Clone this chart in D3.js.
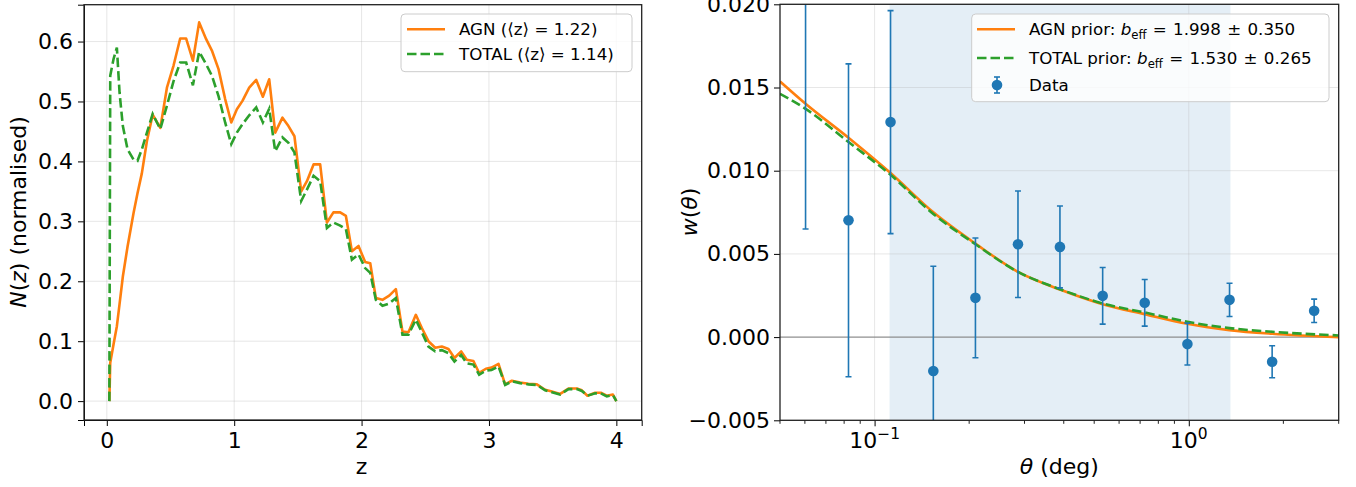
<!DOCTYPE html>
<html>
<head>
<meta charset="UTF-8">
<title>N(z) and w(theta)</title>
<style>
  body { margin: 0; background: #fff; }
  svg { display: block; }
  text { font-family: "DejaVu Sans", sans-serif; fill: #000; }
  .tick { font-size: 22px; }
  .lab { font-size: 22px; }
  .leg { font-size: 16.7px; }
  .grid line { stroke: #b0b0b0; stroke-opacity: 0.3; stroke-width: 1; }
</style>
</head>
<body>
<svg id="fig" width="1356" height="487"></svg>
<script src="https://cdn.jsdelivr.net/npm/d3@7"></script>
<script>
// ---- left panel: redshift distributions ----
var zBins = [0.02, 0.027, 0.053, 0.079, 0.10, 0.126, 0.163, 0.21, 0.241, 0.275, 0.315, 0.36, 0.42, 0.472,
  0.524, 0.576, 0.623, 0.676, 0.725, 0.78, 0.825, 0.877, 0.929, 0.977, 1.021, 1.065, 1.118, 1.173,
  1.225, 1.275, 1.322, 1.379, 1.426, 1.473, 1.526, 1.571, 1.623, 1.675, 1.728, 1.779, 1.832, 1.877,
  1.924, 1.976, 2.028, 2.068, 2.112, 2.164, 2.217, 2.269, 2.321, 2.368, 2.426, 2.473, 2.525, 2.578,
  2.63, 2.682, 2.729, 2.782, 2.826, 2.878, 2.923, 2.976, 3.02, 3.075, 3.127, 3.18, 3.245, 3.31,
  3.376, 3.441, 3.494, 3.559, 3.624, 3.69, 3.729, 3.773, 3.834, 3.878, 3.925, 3.973, 4.0];
var nzAgn = [0.0, 0.064, 0.095, 0.125, 0.162, 0.208, 0.258, 0.314, 0.347, 0.38, 0.434, 0.478, 0.456, 0.523,
  0.56, 0.605, 0.605, 0.568, 0.632, 0.604, 0.585, 0.554, 0.504, 0.465, 0.487, 0.501, 0.523, 0.536,
  0.508, 0.537, 0.448, 0.473, 0.459, 0.442, 0.35, 0.367, 0.395, 0.395, 0.298, 0.315, 0.315, 0.309,
  0.25, 0.259, 0.232, 0.23, 0.172, 0.169, 0.176, 0.187, 0.116, 0.115, 0.144, 0.122, 0.1, 0.089,
  0.091, 0.087, 0.072, 0.083, 0.069, 0.067, 0.047, 0.054, 0.056, 0.062, 0.028, 0.034, 0.031, 0.029,
  0.028, 0.019, 0.016, 0.012, 0.021, 0.021, 0.018, 0.009, 0.014, 0.014, 0.009, 0.011, 0.0];
var nzTotal = [0.0, 0.543, 0.571, 0.59, 0.515, 0.459, 0.42, 0.403, 0.401, 0.42, 0.448, 0.479, 0.454, 0.493,
  0.534, 0.565, 0.565, 0.527, 0.583, 0.562, 0.543, 0.509, 0.465, 0.429, 0.448, 0.462, 0.477, 0.49,
  0.465, 0.488, 0.417, 0.44, 0.431, 0.415, 0.334, 0.353, 0.376, 0.367, 0.289, 0.298, 0.293, 0.287,
  0.236, 0.245, 0.222, 0.214, 0.169, 0.159, 0.163, 0.172, 0.111, 0.111, 0.136, 0.115, 0.091, 0.083,
  0.085, 0.08, 0.066, 0.077, 0.063, 0.061, 0.044, 0.051, 0.052, 0.058, 0.027, 0.033, 0.03, 0.028,
  0.027, 0.018, 0.015, 0.011, 0.02, 0.02, 0.017, 0.009, 0.013, 0.013, 0.008, 0.01, 0.0];
var zTicks = [0, 1, 2, 3, 4];
var nTicks = [0.0, 0.1, 0.2, 0.3, 0.4, 0.5, 0.6];

// ---- right panel: angular correlation ----
var thetaData = [0.0603, 0.0826, 0.1124, 0.1538, 0.2094, 0.286, 0.389, 0.532, 0.724, 0.99, 1.348, 1.842, 2.506];
var wData = [0.0235, 0.00702, 0.01292, -0.00204, 0.00236, 0.00558, 0.00542, 0.00248, 0.00206, -0.00042, 0.00224, -0.00148, 0.00158];
var wErr = [0.017, 0.0094, 0.0067, 0.0063, 0.0036, 0.0032, 0.00246, 0.0017, 0.0014, 0.00126, 0.001, 0.00096, 0.0007];
var thetaModel = [0.05, 0.0603, 0.0826, 0.1124, 0.1538, 0.2094, 0.286, 0.389, 0.532, 0.724, 0.99, 1.348, 1.842, 3.0];
var wAgn = [0.01536, 0.01402, 0.01198, 0.00986, 0.0075, 0.00562, 0.00392, 0.00286, 0.00198, 0.00138, 0.0008, 0.00042, 0.0002, 0.0];
var wTotal = [0.01462, 0.01372, 0.01172, 0.00975, 0.0074, 0.00558, 0.00392, 0.00288, 0.00202, 0.00148, 0.00092, 0.00054, 0.00032, 0.0001];
var fitRange = [0.1116, 1.357];
var wTicks = [-0.005, 0.0, 0.005, 0.010, 0.015, 0.020];

var orange = "#ff7f0e", green = "#2ca02c", blue = "#1f77b4";
var svg = d3.select("#fig");

// ================= left =================
var xL = d3.scaleLinear().domain([-0.179, 4.199]).range([84, 641.7]);
var yL = d3.scaleLinear().domain([-0.0315, 0.6615]).range([420, 4.7]);
var gL = svg.append("g");

var gridL = gL.append("g").attr("class", "grid");
gridL.selectAll("line.v").data(zTicks).enter().append("line")
  .attr("x1", d => xL(d)).attr("x2", d => xL(d)).attr("y1", yL.range()[1]).attr("y2", yL.range()[0]);
gridL.selectAll("line.h").data(nTicks).enter().append("line")
  .attr("x1", xL.range()[0]).attr("x2", xL.range()[1]).attr("y1", d => yL(d)).attr("y2", d => yL(d));

var lineL = (ys) => d3.line().x((d, i) => xL(zBins[i])).y(d => yL(d))(ys);
gL.append("path").attr("d", lineL(nzAgn)).attr("fill", "none").attr("stroke", orange).attr("stroke-width", 2.6).attr("stroke-linejoin", "round");
gL.append("path").attr("d", lineL(nzTotal)).attr("fill", "none").attr("stroke", green).attr("stroke-width", 2.6).attr("stroke-dasharray", "9.5,4");

gL.append("g").attr("transform", "translate(0,420)")
  .call(d3.axisBottom(xL).tickValues(zTicks).tickFormat(d3.format("d")).tickSize(6).tickPadding(6))
  .call(g => g.selectAll("text").attr("class", "tick"));
gL.append("g").attr("transform", "translate(84,0)")
  .call(d3.axisLeft(yL).tickValues(nTicks).tickFormat(d3.format(".1f")).tickSize(6).tickPadding(5))
  .call(g => g.selectAll("text").attr("class", "tick"));
gL.append("rect").attr("x", 84).attr("y", 4.7).attr("width", 641.7 - 84).attr("height", 420 - 4.7)
  .attr("fill", "none").attr("stroke", "#222").attr("stroke-width", 1.3);

gL.append("text").attr("class", "lab").attr("x", xL(2)).attr("y", 474).attr("text-anchor", "middle").text("z");
var ylab = gL.append("text").attr("class", "lab").attr("text-anchor", "middle")
  .attr("transform", "translate(26,212) rotate(-90)");
ylab.append("tspan").attr("font-style", "italic").text("N");
ylab.append("tspan").text("(");
ylab.append("tspan").attr("font-style", "italic").text("z");
ylab.append("tspan").text(") (normalised)");

// left legend
var legL = gL.append("g");
legL.append("rect").attr("x", 401).attr("y", 14).attr("width", 231).attr("height", 57.7).attr("rx", 4)
  .attr("fill", "#fff").attr("fill-opacity", 0.8).attr("stroke", "#ccc");
legL.append("line").attr("x1", 407).attr("x2", 445).attr("y1", 29.3).attr("y2", 29.3).attr("stroke", orange).attr("stroke-width", 2.6);
legL.append("line").attr("x1", 407).attr("x2", 445).attr("y1", 54).attr("y2", 54).attr("stroke", green).attr("stroke-width", 2.6).attr("stroke-dasharray", "9.5,4");
legL.append("text").attr("class", "leg").attr("x", 459).attr("y", 35.4).text("AGN (\u27E8z\u27E9 = 1.22)");
legL.append("text").attr("class", "leg").attr("x", 459).attr("y", 60.1).text("TOTAL (\u27E8z\u27E9 = 1.14)");

// ================= right =================
var xR = d3.scaleLog().domain([0.05, 3.0]).range([780, 1338.7]);
var yR = d3.scaleLinear().domain([-0.005, 0.020]).range([420.3, 4.3]);
var gR = svg.append("g");
svg.append("clipPath").attr("id", "clipR").append("rect")
  .attr("x", 780).attr("y", 4.3).attr("width", 1338.7 - 780).attr("height", 420.3 - 4.3);

gR.append("rect").attr("x", xR(fitRange[0])).attr("y", 4.3).attr("width", xR(fitRange[1]) - xR(fitRange[0]))
  .attr("height", 420.3 - 4.3).attr("fill", blue).attr("fill-opacity", 0.12);

var gridR = gR.append("g").attr("class", "grid");
gridR.selectAll("line.v").data([0.1, 1]).enter().append("line")
  .attr("x1", d => xR(d)).attr("x2", d => xR(d)).attr("y1", 4.3).attr("y2", 420.3);
gridR.selectAll("line.h").data(wTicks).enter().append("line")
  .attr("x1", 780).attr("x2", 1338.7).attr("y1", d => yR(d)).attr("y2", d => yR(d));

gR.append("line").attr("x1", 780).attr("x2", 1338.7).attr("y1", yR(0)).attr("y2", yR(0))
  .attr("stroke", "#808080").attr("stroke-width", 1.3).attr("stroke-opacity", 0.8);

var body = gR.append("g").attr("clip-path", "url(#clipR)");
var lineR = (ys) => d3.line().curve(d3.curveMonotoneX).x((d, i) => xR(thetaModel[i])).y(d => yR(d))(ys);
body.append("path").attr("d", lineR(wAgn)).attr("fill", "none").attr("stroke", orange).attr("stroke-width", 2.6);
body.append("path").attr("d", lineR(wTotal)).attr("fill", "none").attr("stroke", green).attr("stroke-width", 2.6).attr("stroke-dasharray", "9.5,4");

var pts = body.selectAll("g.pt").data(thetaData).enter().append("g");
pts.append("line").attr("x1", d => xR(d)).attr("x2", d => xR(d))
  .attr("y1", (d, i) => yR(wData[i] - wErr[i])).attr("y2", (d, i) => yR(wData[i] + wErr[i]))
  .attr("stroke", blue).attr("stroke-width", 1.6);
[-1, 1].forEach(function (s) {
  pts.append("line").attr("x1", d => xR(d) - 3).attr("x2", d => xR(d) + 3)
    .attr("y1", (d, i) => yR(wData[i] + s * wErr[i])).attr("y2", (d, i) => yR(wData[i] + s * wErr[i]))
    .attr("stroke", blue).attr("stroke-width", 1.6);
});
pts.append("circle").attr("cx", d => xR(d)).attr("cy", (d, i) => yR(wData[i])).attr("r", 5.3).attr("fill", blue);

var xAx = gR.append("g").attr("transform", "translate(0,420.3)")
  .call(d3.axisBottom(xR).tickValues([0.1, 1]).tickFormat("").tickSize(6));
var minors = [0.05, 0.06, 0.07, 0.08, 0.09, 0.2, 0.3, 0.4, 0.5, 0.6, 0.7, 0.8, 0.9, 2, 3];
xAx.selectAll("line.minor").data(minors).enter().append("line")
  .attr("x1", d => xR(d)).attr("x2", d => xR(d)).attr("y1", 0).attr("y2", 3.5).attr("stroke", "#222");
[[0.1, "\u22121"], [1, "0"]].forEach(function (t) {
  var tx = gR.append("text").attr("class", "tick").attr("x", xR(t[0])).attr("y", 448).attr("text-anchor", "middle");
  tx.append("tspan").text("10");
  tx.append("tspan").attr("font-size", "15.5px").attr("dy", -9).text(t[1]);
});
gR.append("g").attr("transform", "translate(780,0)")
  .call(d3.axisLeft(yR).tickValues(wTicks).tickFormat(d => d3.format(".3f")(d).replace("-", "\u2212")).tickSize(6).tickPadding(4))
  .call(g => g.selectAll("text").attr("class", "tick"));
gR.selectAll(".domain").remove();
gR.append("rect").attr("x", 780).attr("y", 4.3).attr("width", 1338.7 - 780).attr("height", 420.3 - 4.3)
  .attr("fill", "none").attr("stroke", "#222").attr("stroke-width", 1.3);

var xlab = gR.append("text").attr("class", "lab").attr("x", (780 + 1338.7) / 2).attr("y", 474).attr("text-anchor", "middle");
xlab.append("tspan").attr("font-style", "italic").text("\u03B8");
xlab.append("tspan").text(" (deg)");
var wlab = gR.append("text").attr("class", "lab").attr("text-anchor", "middle")
  .attr("transform", "translate(697,212) rotate(-90)");
wlab.append("tspan").attr("font-style", "italic").text("w");
wlab.append("tspan").text("(");
wlab.append("tspan").attr("font-style", "italic").text("\u03B8");
wlab.append("tspan").text(")");

// right legend
var legR = gR.append("g");
legR.append("rect").attr("x", 971.7).attr("y", 14).attr("width", 357.3).attr("height", 87.7).attr("rx", 4)
  .attr("fill", "#fff").attr("fill-opacity", 0.8).attr("stroke", "#ccc");
legR.append("line").attr("x1", 977).attr("x2", 1015).attr("y1", 29.3).attr("y2", 29.3).attr("stroke", orange).attr("stroke-width", 2.6);
legR.append("line").attr("x1", 977).attr("x2", 1015).attr("y1", 58).attr("y2", 58).attr("stroke", green).attr("stroke-width", 2.6).attr("stroke-dasharray", "9.5,4");
legR.append("line").attr("x1", 997).attr("x2", 997).attr("y1", 77).attr("y2", 93).attr("stroke", blue).attr("stroke-width", 1.6);
legR.append("line").attr("x1", 994).attr("x2", 1000).attr("y1", 77).attr("y2", 77).attr("stroke", blue).attr("stroke-width", 1.6);
legR.append("line").attr("x1", 994).attr("x2", 1000).attr("y1", 93).attr("y2", 93).attr("stroke", blue).attr("stroke-width", 1.6);
legR.append("circle").attr("cx", 997).attr("cy", 85).attr("r", 5.3).attr("fill", blue);

var priors = [["AGN prior: ", "1.998", "0.350"], ["TOTAL prior: ", "1.530", "0.265"]];
priors.forEach(function (p, i) {
  var t = legR.append("text").attr("class", "leg").attr("x", 1029).attr("y", [35.4, 64][i]);
  t.append("tspan").text(p[0]);
  t.append("tspan").attr("font-style", "italic").text("b");
  t.append("tspan").attr("font-size", "11.7px").attr("dy", 3.8).text("eff");
  t.append("tspan").attr("dy", -3.8).attr("dx", 1).text("\u00A0=");
  t.append("tspan").attr("dx", 1).text("\u00A0" + p[1] + "\u00A0");
  t.append("tspan").attr("dx", 1).text("\u00B1");
  t.append("tspan").attr("dx", 1).text("\u00A0" + p[2]);
});
legR.append("text").attr("class", "leg").attr("x", 1029).attr("y", 91).text("Data");
</script>
</body>
</html>
